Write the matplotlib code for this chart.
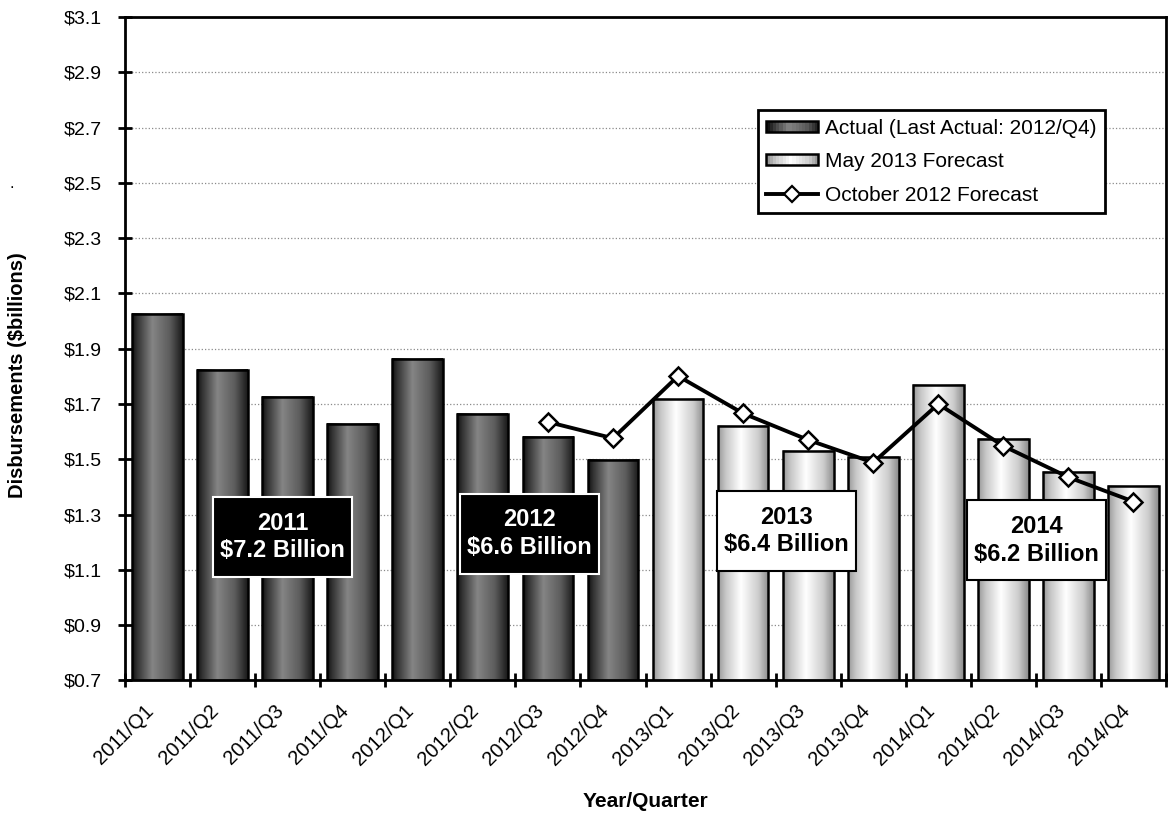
import numpy as np
import matplotlib
matplotlib.use("Agg")
import matplotlib.pyplot as plt
from matplotlib.patches import Rectangle, Patch
from matplotlib.lines import Line2D
from matplotlib.legend_handler import HandlerBase

plt.rcParams['font.family'] = ['Liberation Sans', 'DejaVu Sans']

# ---- data ($ billions per quarter) ----
quarters = ['2011/Q1', '2011/Q2', '2011/Q3', '2011/Q4',
            '2012/Q1', '2012/Q2', '2012/Q3', '2012/Q4',
            '2013/Q1', '2013/Q2', '2013/Q3', '2013/Q4',
            '2014/Q1', '2014/Q2', '2014/Q3', '2014/Q4']
actual = [2.025, 1.823, 1.725, 1.629, 1.863, 1.664, 1.580, 1.497]
may_2013_forecast = [1.717, 1.619, 1.530, 1.510, 1.768, 1.572, 1.453, 1.403]
oct_2012_forecast = [1.635, 1.576, 1.801, 1.666, 1.570, 1.488,
                     1.700, 1.548, 1.435, 1.347]
oct_start = 6          # October 2012 forecast begins at 2012/Q3
years = ['2011', '2012', '2013', '2014']

# annual totals for the boxed callouts
year_totals = [sum((actual + may_2013_forecast)[i * 4:(i + 1) * 4]) for i in range(4)]

y_ticks = np.round(np.arange(0.7, 3.11, 0.2), 1)

# gradient shading for the bars (grey level across the bar width)
dark_shade = np.interp(np.linspace(0, 1, 64), [0, 0.1, 0.4, 0.75, 1],
                       [0.07, 0.2, 0.52, 0.36, 0.1])
light_shade = np.interp(np.linspace(0, 1, 64), [0, 0.15, 0.45, 0.8, 1],
                        [0.6, 0.78, 1.0, 0.8, 0.55])


class GradientHandler(HandlerBase):
    """Legend key drawn as a shaded rectangle."""
    def __init__(self, shade):
        super().__init__()
        self.shade = shade

    def create_artists(self, legend, orig_handle, xdescent, ydescent,
                       width, height, fontsize, trans):
        steps = self.shade[::4]
        n = len(steps)
        h = height * 0.85
        y0 = -ydescent + (height - h) / 2
        arts = []
        for i, g in enumerate(steps):
            arts.append(Rectangle((-xdescent + width * i / n, y0), width / n + 0.3, h,
                                  facecolor=str(g), edgecolor='none', transform=trans))
        arts.append(Rectangle((-xdescent, y0), width, h, facecolor='none',
                              edgecolor='black', lw=1.8, transform=trans))
        return arts


fig = plt.figure(figsize=(11.73, 8.13), dpi=100)
ax = fig.add_axes([125 / 1173, 1 - 680.4 / 813, (1166 - 125) / 1173, (680.4 - 17) / 813])

x = np.arange(len(quarters))
bar_w = 0.78
ymin, ymax = 0.7, 3.1

values = actual + may_2013_forecast
for i, v in enumerate(values):
    shade = dark_shade if i < len(actual) else light_shade
    ax.imshow(shade[np.newaxis, :], cmap='gray', vmin=0, vmax=1, aspect='auto',
              extent=[x[i] - bar_w / 2, x[i] + bar_w / 2, ymin, v],
              interpolation='bilinear', zorder=2)
ax.bar(x, values, width=bar_w, facecolor='none', edgecolor='black',
       linewidth=1.8, zorder=3)

ax.plot(x[oct_start:], oct_2012_forecast, color='black', lw=2.8, marker='D',
        markersize=9.5, markerfacecolor='white', markeredgecolor='black',
        markeredgewidth=1.8, zorder=4)

# yearly total callouts
box_centers = [(1.92, 1.219), (5.72, 1.231), (9.67, 1.240), (13.51, 1.207)]
box_w, box_h = 2.14, 0.29
for k, (cx, cy) in enumerate(box_centers):
    dark = k < 2
    ax.add_patch(Rectangle((cx - box_w / 2, cy - box_h / 2), box_w, box_h,
                           facecolor='black' if dark else 'white',
                           edgecolor='white' if dark else 'black',
                           lw=1.5, zorder=5))
    ax.text(cx, cy, f'{years[k]}\n${year_totals[k]:.1f} Billion',
            ha='center', va='center', fontsize=17, fontweight='bold',
            color='white' if dark else 'black', linespacing=1.25, zorder=6)

ax.set_xlim(-0.5, len(quarters) - 0.5)
ax.set_ylim(ymin, ymax)
ax.set_yticks(y_ticks)
ax.set_yticklabels([f'${t:.1f}' for t in y_ticks], fontsize=14)
ax.yaxis.grid(True, linestyle=':', color='#8a8a8a', lw=0.9)
ax.set_axisbelow(True)

# category boundaries carry the tick marks, centres carry the labels
ax.set_xticks(np.arange(-0.5, len(quarters), 1))
ax.set_xticklabels([])
ax.set_xticks(x, minor=True)
ax.set_xticklabels(quarters, minor=True, rotation=45, ha='right', va='top',
                   fontsize=14.5)
ax.tick_params(axis='x', which='major', direction='inout', length=10, width=2)
ax.tick_params(axis='x', which='minor', length=0, pad=15)
ax.tick_params(axis='y', direction='inout', length=10, width=2, pad=12)

for side in ['left', 'bottom', 'top', 'right']:
    ax.spines[side].set_linewidth(2)
    ax.spines[side].set_color('black')

ax.set_xlabel('Year/Quarter', fontsize=15, fontweight='bold', labelpad=16)
ax.set_ylabel('Disbursements ($billions)', fontsize=14.5, fontweight='bold', labelpad=26)
ax.yaxis.label.set_y(0.46)
fig.text(12 / 1173, 1 - 183 / 813, '.', fontsize=12, ha='center', va='center')

h_actual = Patch(label='Actual (Last Actual: 2012/Q4)')
h_may = Patch(label='May 2013 Forecast')
h_oct = Line2D([], [], color='black', lw=2.8, marker='D', markersize=8,
               markerfacecolor='white', markeredgecolor='black',
               markeredgewidth=1.6, label='October 2012 Forecast')
leg = ax.legend(handles=[h_actual, h_may, h_oct],
                handler_map={h_actual: GradientHandler(dark_shade),
                             h_may: GradientHandler(light_shade)},
                loc='lower left', bbox_to_anchor=(758 / 1173, 1 - 213 / 813),
                bbox_transform=fig.transFigure, borderaxespad=0,
                fontsize=15, handlelength=2.5, handleheight=0.6,
                handletextpad=0.3, labelspacing=0.7, borderpad=0.4,
                fancybox=False, framealpha=1, edgecolor='black')
leg.get_frame().set_linewidth(2)
leg.set_zorder(10)

fig.savefig('out.png', dpi=100)
